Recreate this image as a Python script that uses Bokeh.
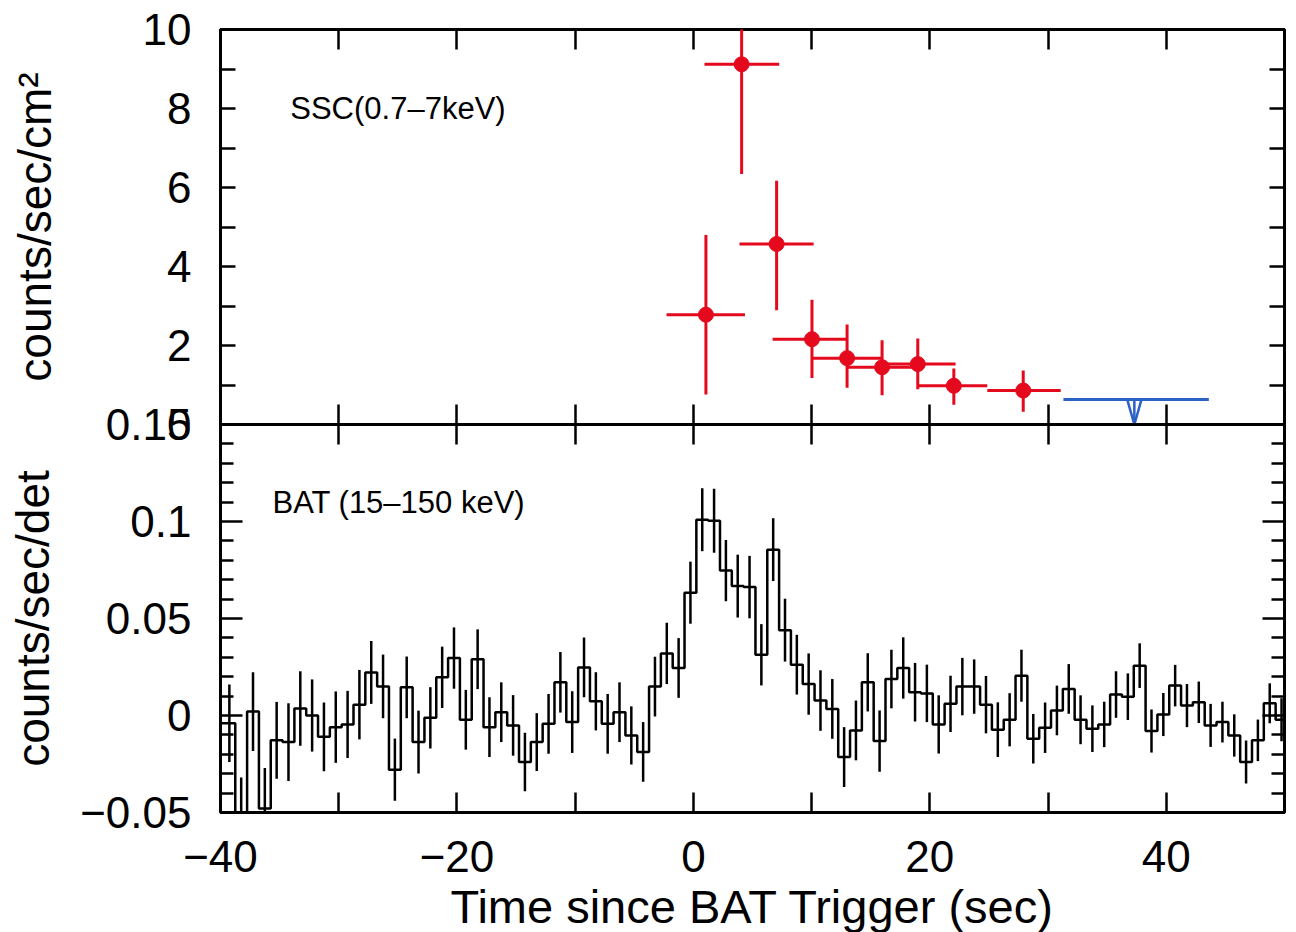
import numpy as np
from bokeh.plotting import figure
from bokeh.models import LinearAxis, FixedTicker, Range1d
from bokeh.layouts import column
from bokeh.embed import file_html
from bokeh.resources import INLINE
from bokeh.core.properties import value

FONT = "Liberation Sans"
RED = "#e5091d"
BLUE = "#2b62c5"

# ---------------- SSC (0.7-7 keV) ----------------
ssc_t = [1.06, 4.08, 7.04, 10.03, 13.0, 15.96, 18.98, 22.03, 27.9]
ssc_t_lo = [-2.27, 0.94, 3.9, 6.7, 10.0, 13.0, 15.96, 19.07, 24.86]
ssc_t_hi = [4.36, 7.26, 10.17, 12.97, 15.96, 19.07, 22.18, 24.86, 31.07]
ssc_rate = [2.78, 9.12, 4.57, 2.16, 1.68, 1.45, 1.53, 0.98, 0.86]
ssc_rate_lo = [0.76, 6.34, 2.89, 1.18, 0.93, 0.74, 0.89, 0.50, 0.32]
ssc_rate_hi = [4.8, 11.9, 6.17, 3.16, 2.53, 2.13, 2.18, 1.42, 1.37]

# upper limit (blue)
ul_t0 = 31.3
ul_t1 = 43.6
ul_rate = 0.63
ul_arrow_t = 37.3

# ---------------- BAT (15-150 keV) ----------------
bat_t_start = -40.75
bat_dt = 1.0
bat_rate = [
    -0.004, -0.004, -0.060, 0.002, -0.048, -0.0128, -0.0137, 0.0036, 0.0, -0.011,
    -0.006, -0.0046, 0.0056, 0.0222, 0.015, -0.0279, 0.0145, -0.0137, -0.0012, 0.0197,
    0.0296, -0.0022, 0.029, -0.006, 0.0017, -0.0051, -0.024, -0.0137, -0.0043, 0.0171,
    -0.0034, 0.0248, 0.0073, -0.0043, 0.0017, -0.0103, -0.0188, 0.0149, 0.032, 0.0245,
    0.0633, 0.1009, 0.1004, 0.0747, 0.0667, 0.0662, 0.0313, 0.0855, 0.044, 0.0262,
    0.0162, 0.0077, 0.0034, -0.0214, -0.0077, 0.0171, -0.0132, 0.0188, 0.0245, 0.012,
    0.0114, -0.0046, 0.006, 0.0149, 0.0149, 0.0056, -0.0073, -0.0022, 0.0205, -0.012,
    -0.0063, 0.0026, 0.0137, -0.0022, -0.0068, -0.0046, 0.0108, 0.0097, 0.0257, -0.008,
    0.0005, 0.0154, 0.0051, 0.0068, -0.0051, -0.0034, -0.0103, -0.024, -0.0128, 0.0063,
    -0.0022,
]
bat_err = [
    0.020, 0.020, 0.028, 0.0203, 0.021, 0.0198, 0.020, 0.0192, 0.0186, 0.0177,
    0.0184, 0.0173, 0.0179, 0.0162, 0.0164, 0.016, 0.0159, 0.0162, 0.0158, 0.0158,
    0.0158, 0.0154, 0.0154, 0.0154, 0.0154, 0.0156, 0.0151, 0.0149, 0.0154, 0.0156,
    0.0159, 0.0154, 0.015, 0.0154, 0.0154, 0.015, 0.0154, 0.0154, 0.0158, 0.0154,
    0.016, 0.0162, 0.0165, 0.0158, 0.0162, 0.0161, 0.0158, 0.0162, 0.0162, 0.0154,
    0.0158, 0.0156, 0.0154, 0.0154, 0.0154, 0.015, 0.0158, 0.0151, 0.0158, 0.0151,
    0.0148, 0.015, 0.0145, 0.0148, 0.014, 0.0148, 0.0141, 0.0137, 0.0134, 0.0128,
    0.013, 0.0128, 0.0128, 0.0126, 0.012, 0.0117, 0.012, 0.012, 0.0115, 0.0111,
    0.0111, 0.0107, 0.0111, 0.0107, 0.0111, 0.0105, 0.0109, 0.0111, 0.0107, 0.0103,
    0.0111,
]

# ---------------- axis tick definitions ----------------
x_major = [-40, -20, 0, 20, 40]
x_minor = [-30, -10, 10, 30, 50]
x_all = [-40, -30, -20, -10, 0, 10, 20, 30, 40, 50]
x_labels = {-40: "\u221240", -20: "\u221220", 0: "0", 20: "20", 40: "40"}
ssc_major = [0, 2, 4, 6, 8, 10]
ssc_minor = [1, 3, 5, 7, 9]
ssc_all = [0, 1, 2, 3, 4, 5, 6, 7, 8, 9, 10]
bat_major = [-0.05, 0.0, 0.05, 0.1, 0.15]
bat_minor = [-0.04, -0.03, -0.02, -0.01, 0.01, 0.02, 0.03, 0.04, 0.06, 0.07,
             0.08, 0.09, 0.11, 0.12, 0.13, 0.14]
bat_labels = {-0.05: "\u22120.05", 0.0: "0", 0.05: "0.05", 0.1: "0.1", 0.15: "0.15"}

TICK_FONT = "44px"


def tick_axis(ticks, length):
    """Axis that only draws inward ticks (no labels): all ticks as minor ticks."""
    return LinearAxis(ticker=FixedTicker(ticks=[], minor_ticks=ticks),
                      axis_line_color=None,
                      major_tick_in=0, major_tick_out=0,
                      minor_tick_in=length, minor_tick_out=0,
                      minor_tick_line_width=2.5, minor_tick_line_color="black",
                      major_label_standoff=0)


def label_axis(ticker, tick_in, minor_in, **kw):
    return LinearAxis(ticker=ticker, axis_line_color=None,
                      major_tick_in=tick_in, major_tick_out=0,
                      minor_tick_in=minor_in, minor_tick_out=0,
                      major_tick_line_width=2.5, minor_tick_line_width=2.5,
                      major_tick_line_color="black", minor_tick_line_color="black",
                      major_label_text_font=FONT, major_label_text_font_size=TICK_FONT,
                      major_label_text_color="black",
                      axis_label_text_font=FONT, axis_label_text_font_style="normal",
                      axis_label_text_color="black",
                      **kw)


x_range = Range1d(-40, 50)

# ---------------- top panel ----------------
top = figure(x_range=x_range, y_range=Range1d(0, 10),
             frame_width=1064, frame_height=395,
             min_border_left=220, min_border_right=4,
             min_border_top=29, min_border_bottom=25,
             x_axis_location=None, y_axis_location=None,
             output_backend="svg", toolbar_location=None)
top.grid.visible = False
top.outline_line_color = "black"
top.outline_line_width = 3
top.background_fill_color = None
top.border_fill_color = None

top.add_layout(label_axis(FixedTicker(ticks=ssc_major, minor_ticks=ssc_minor), 15, 15,
                          major_label_standoff=29,
                          axis_label="counts/sec/cm\u00b2", axis_label_standoff=79,
                          axis_label_text_font_size="46px"),
               "left")
top.add_layout(tick_axis(ssc_all, 15), "right")
top.add_layout(tick_axis(x_all, 20), "above")
top.add_layout(tick_axis(x_all, 20), "below")

top.segment(x0=ssc_t_lo, y0=ssc_rate, x1=ssc_t_hi, y1=ssc_rate,
            line_color=RED, line_width=3)
top.segment(x0=ssc_t, y0=ssc_rate_lo, x1=ssc_t, y1=ssc_rate_hi,
            line_color=RED, line_width=3)
top.scatter(x=ssc_t, y=ssc_rate, size=15, marker="circle",
            fill_color=RED, line_color=RED)

top.segment(x0=[ul_t0], y0=[ul_rate], x1=[ul_t1], y1=[ul_rate],
            line_color=BLUE, line_width=3)
top.segment(x0=[ul_arrow_t], y0=[ul_rate], x1=[ul_arrow_t], y1=[0],
            line_color=BLUE, line_width=2.5)
top.line(x=[ul_arrow_t - 0.6, ul_arrow_t, ul_arrow_t + 0.6], y=[ul_rate, 0, ul_rate],
         line_color=BLUE, line_width=2.5)

top.text(x=[-34.1], y=[8.0], text=["SSC(0.7\u20137keV)"],
         text_font=value(FONT), text_font_size="31px",
         text_align="left", text_baseline="middle", text_color="black")

# ---------------- bottom panel ----------------
bot = figure(x_range=x_range, y_range=Range1d(-0.05, 0.15),
             frame_width=1064, frame_height=388,
             min_border_left=220, min_border_right=4,
             min_border_top=25, min_border_bottom=100,
             x_axis_location=None, y_axis_location=None,
             output_backend="svg", toolbar_location=None,
             margin=(-50, 0, 0, 0))
bot.grid.visible = False
bot.outline_line_color = "black"
bot.outline_line_width = 3
bot.background_fill_color = None
bot.border_fill_color = None

bot.add_layout(label_axis(FixedTicker(ticks=bat_major, minor_ticks=bat_minor), 22, 13,
                          major_label_standoff=29,
                          major_label_overrides=bat_labels,
                          axis_label="counts/sec/det", axis_label_standoff=18,
                          axis_label_text_font_size="46px"),
               "left")
bot.add_layout(tick_axis(bat_major, 22), "right")
bot.add_layout(tick_axis(bat_minor, 13), "right")
bot.add_layout(tick_axis(x_all, 20), "above")
bot.add_layout(label_axis(FixedTicker(ticks=x_major, minor_ticks=x_minor), 20, 20,
                          major_label_standoff=28,
                          major_label_overrides=x_labels,
                          axis_label="Time since BAT Trigger (sec)", axis_label_standoff=5,
                          axis_label_text_font_size="47px"),
               "below")

n = len(bat_rate)
edges = bat_t_start + bat_dt * np.arange(n + 1)
centers = edges[:-1] + bat_dt / 2
rate = np.array(bat_rate)
err = np.array(bat_err)
bot.step(x=edges, y=np.append(rate, rate[-1]), mode="after",
         line_color="black", line_width=2.5)
bot.segment(x0=centers, y0=rate - err, x1=centers, y1=rate + err,
            line_color="black", line_width=2.5)

bot.text(x=[-35.6], y=[0.11], text=["BAT (15\u2013150 keV)"],
         text_font=value(FONT), text_font_size="31px",
         text_align="left", text_baseline="middle", text_color="black")

layout = column(top, bot)
open("out.html", "w").write(file_html(layout, INLINE))
